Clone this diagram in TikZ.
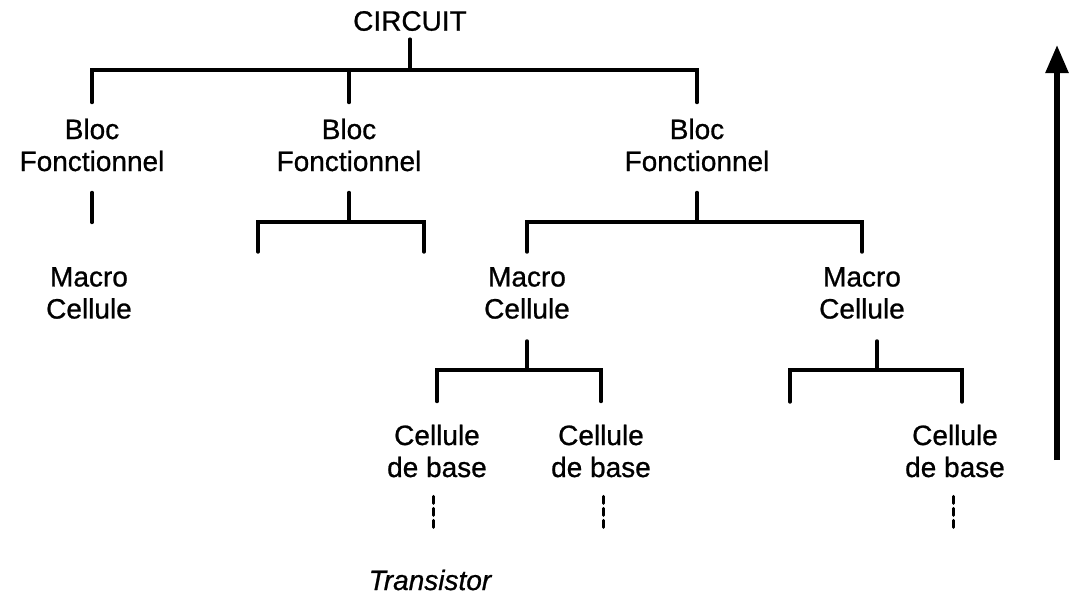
\documentclass[tikz,border=0pt]{standalone}
\usepackage{fontspec}
\setmainfont[FakeBold=0.8]{Liberation Sans}
\usetikzlibrary{positioning,arrows.meta,calc}

\begin{document}
\begin{tikzpicture}[x=1pt, y=-1pt,
        label/.style={align=center, inner sep=0pt, font=\fontsize{28}{32}\selectfont},
        tree/.style={line width=3.4pt, line cap=round},
        dots/.style={line width=3pt, dash pattern=on 7pt off 5pt, line cap=round},
        level/.style={-{Triangle[width=22pt, length=28pt]}, line width=5.5pt},
      ]
      \useasboundingbox (0,0) rectangle (1073,594);

      \node[label] (circuit) at (410, 21) {CIRCUIT};
      \node[label] (bloc1) at (92, 145) {Bloc\\Fonctionnel};
      \node[label] (bloc2) at (349, 145) {Bloc\\Fonctionnel};
      \node[label] (bloc3) at (697, 145) {Bloc\\Fonctionnel};
      \node[label] (macro1) at (89, 293) {Macro\\Cellule};
      \node[label] (macro2) at (527, 293) {Macro\\Cellule};
      \node[label] (macro3) at (862, 293) {Macro\\Cellule};
      \node[label] (base1) at (437, 451) {Cellule\\de base};
      \node[label] (base2) at (601, 451) {Cellule\\de base};
      \node[label] (base3) at (955, 451) {Cellule\\de base};
      \node[label, font=\fontsize{28}{32}\selectfont\itshape] (transistor) at (430, 580) {Transistor};

      % circuit -> blocs
      \coordinate (j0) at (410, 70);
      \draw[tree] ([yshift=-8pt]circuit.south) -- (j0);
      \draw[tree] ([yshift=16pt]bloc1.north) |- (j0 -| bloc3) -- ([yshift=16pt]bloc3.north);
      \draw[tree] (j0 -| bloc2) -- ([yshift=16pt]bloc2.north);

      % bloc 1
      \draw[tree] ([yshift=-21pt]bloc1.south) -- ++(0, 30);

      % bloc 2
      \coordinate (j2) at (349, 222);
      \draw[tree] ([yshift=-21pt]bloc2.south) -- (j2);
      \draw[tree] (258, 252) |- (j2) -| (424, 252);

      % bloc 3
      \coordinate (j3) at (697, 222);
      \draw[tree] ([yshift=-21pt]bloc3.south) -- (j3);
      \draw[tree] ([yshift=15pt]macro2.north) |- (j3) -| ([yshift=15pt]macro3.north);

      % macro cellules
      \coordinate (j4) at (527, 370);
      \draw[tree] ([yshift=-22pt]macro2.south) -- (j4);
      \draw[tree] ([yshift=23pt]base1.north) |- (j4) -| ([yshift=23pt]base2.north);
      \coordinate (j5) at (877, 370);
      \draw[tree] ([yshift=-22pt]macro3.south -| j5) -- (j5);
      \draw[tree] (790, 402) |- (j5) -| (962, 402);

      % vers le transistor
      \foreach \b/\dx in {base1/-4, base2/2, base3/-2}
        \draw[dots] ([xshift=\dx pt, yshift=-19pt]\b.south) -- ++(0, 32);

      \coordinate (bottom) at (1057, 460);
      \coordinate (top) at (1057, 45);
      \draw[level] (bottom) -- (top);
    \end{tikzpicture}
\end{document}
